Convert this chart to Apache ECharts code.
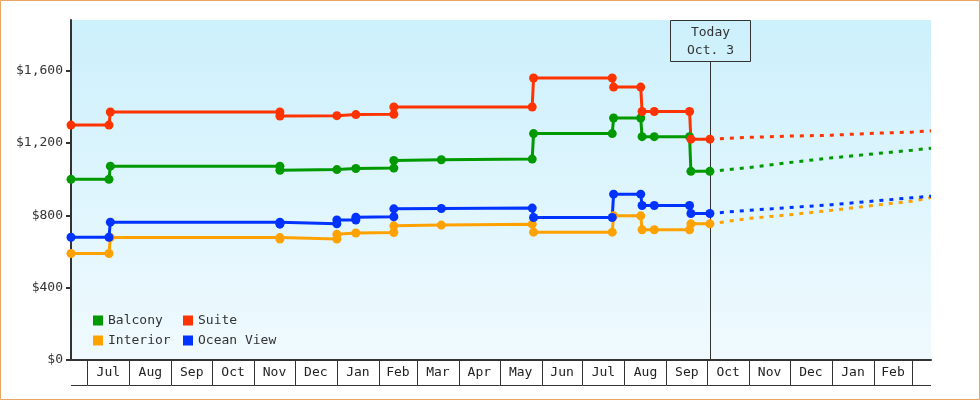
<!DOCTYPE html>
<html>
<head>
<meta charset="utf-8">
<script src="https://cdn.jsdelivr.net/npm/echarts@6/dist/echarts.min.js"></script>
<style>
html,body{margin:0;padding:0;background:#fff;}
#chart{width:980px;height:400px;}
</style>
</head>
<body>
<div id="chart"></div>
<script>
// ---- data ----
const balcony = [['2013-06-19',999],['2013-07-17',999],['2013-07-18',1072],['2013-11-20',1072],['2013-11-20',1049],['2014-01-01',1053],['2014-01-15',1059],['2014-02-12',1061],['2014-02-12',1103],['2014-03-19',1107],['2014-05-25',1111],['2014-05-26',1252],['2014-07-23',1252],['2014-07-24',1338],['2014-08-13',1338],['2014-08-14',1235],['2014-08-23',1235],['2014-09-18',1235],['2014-09-19',1043],['2014-10-03',1043]];
const suite = [['2013-06-19',1299],['2013-07-17',1299],['2013-07-18',1371],['2013-11-20',1371],['2013-11-20',1349],['2014-01-01',1351],['2014-01-15',1357],['2014-02-12',1359],['2014-02-12',1399],['2014-05-25',1399],['2014-05-26',1559],['2014-07-23',1559],['2014-07-24',1509],['2014-08-13',1509],['2014-08-14',1374],['2014-08-23',1374],['2014-09-18',1374],['2014-09-19',1221],['2014-10-03',1221]];
const interior = [['2013-06-19',589],['2013-07-17',589],['2013-07-18',677],['2013-11-20',677],['2013-11-20',669],['2014-01-01',669],['2014-01-01',695],['2014-01-15',702],['2014-02-12',705],['2014-02-12',742],['2014-03-19',746],['2014-05-25',751],['2014-05-26',707],['2014-07-23',707],['2014-07-24',797],['2014-08-13',797],['2014-08-14',720],['2014-08-23',720],['2014-09-18',720],['2014-09-19',753],['2014-10-03',753]];
const oceanView = [['2013-06-19',679],['2013-07-17',679],['2013-07-18',762],['2013-11-20',762],['2013-11-20',751],['2014-01-01',753],['2014-01-01',774],['2014-01-15',774],['2014-01-15',790],['2014-02-12',792],['2014-02-12',836],['2014-03-19',838],['2014-05-25',840],['2014-05-26',788],['2014-07-23',788],['2014-07-24',917],['2014-08-13',917],['2014-08-14',854],['2014-08-23',854],['2014-09-18',854],['2014-09-19',810],['2014-10-03',810]];

const projDates = ['2014-10-03','2014-11-01','2014-12-01','2015-01-01','2015-02-01','2015-03-01','2015-03-15'];
const balconyProj  = [1043,1064,1092,1118,1140,1160,1171];
const suiteProj    = [1221,1231,1238,1243,1254,1260,1267];
const interiorProj = [753,783,803,828,855,878,898];
const oceanProj    = [810,828,843,859,879,897,906];

const monthBounds = ['2013-06-19','2013-07-01','2013-08-01','2013-09-01','2013-10-01','2013-11-01','2013-12-01','2014-01-01','2014-02-01','2014-03-01','2014-04-01','2014-05-01','2014-06-01','2014-07-01','2014-08-01','2014-09-01','2014-10-01','2014-11-01','2014-12-01','2015-01-01','2015-02-01','2015-03-01','2015-03-15'];
const monthLabels = ['','Jul','Aug','Sep','Oct','Nov','Dec','Jan','Feb','Mar','Apr','May','Jun','Jul','Aug','Sep','Oct','Nov','Dec','Jan','Feb',''];

const yTicks = [0,400,800,1200,1600];
const yMax = 1880;
const todayDate = '2014-10-03';
const todayLabel = 'Today\nOct. 3';

const colors = {Balcony:'#009900', Suite:'#ff3300', Interior:'#ffa200', 'Ocean View':'#0033ff'};
const FONT = 'DejaVu Sans Mono';

// ---- build ----
const chart = echarts.init(document.getElementById('chart'), null, {renderer:'canvas'});

function mainSeries(name, data) {
  return {
    name: name, type: 'line', data: data, z: 3,
    symbol: 'circle', symbolSize: 9,
    itemStyle: {color: colors[name]},
    lineStyle: {color: colors[name], width: 3},
    emphasis: {disabled: true}
  };
}
function projSeries(name, vals) {
  return {
    name: name, type: 'line', z: 3,
    data: projDates.map((d, i) => [d, vals[i]]),
    symbol: 'none',
    itemStyle: {color: colors[name]},
    lineStyle: {color: colors[name], width: 3, type: [4, 6]},
    emphasis: {disabled: true}
  };
}

const cellData = monthLabels.map((l, i) => [monthBounds[i], monthBounds[i + 1], 0]);

const option = {
  animation: false,
  textStyle: {fontFamily: FONT},
  grid: {
    left: 71, right: 49, top: 20, bottom: 40, show: true, borderWidth: 0,
    backgroundColor: new echarts.graphic.LinearGradient(0, 0, 0, 1, [
      {offset: 0, color: '#ccf0fc'}, {offset: 1, color: '#f0fafe'}
    ])
  },
  legend: [
    {
      orient: 'vertical', left: 93, top: 314, padding: 0, itemGap: 7,
      itemWidth: 10, itemHeight: 10, icon: 'rect',
      data: ['Balcony', 'Interior'],
      textStyle: {fontFamily: FONT, fontSize: 13, color: '#333'}
    },
    {
      orient: 'vertical', left: 183, top: 314, padding: 0, itemGap: 7,
      itemWidth: 10, itemHeight: 10, icon: 'rect',
      data: ['Suite', 'Ocean View'],
      textStyle: {fontFamily: FONT, fontSize: 13, color: '#333'}
    }
  ],
  xAxis: {
    type: 'time', min: monthBounds[0], max: monthBounds[monthBounds.length - 1],
    axisLine: {show: true, lineStyle: {color: '#333', width: 2}},
    axisTick: {show: false}, axisLabel: {show: false}, splitLine: {show: false}
  },
  yAxis: {
    type: 'value', min: 0, max: yMax,
    axisLine: {show: true, lineStyle: {color: '#333', width: 2}},
    axisTick: {show: true, length: 5, customValues: yTicks, lineStyle: {color: '#333', width: 2}},
    axisLabel: {
      customValues: yTicks, margin: 8, color: '#333', fontFamily: FONT, fontSize: 13,
      formatter: v => '$' + Number(v).toLocaleString('en-US')
    },
    splitLine: {show: false}
  },
  series: [
    mainSeries('Balcony', balcony),
    mainSeries('Interior', interior),
    mainSeries('Suite', suite),
    mainSeries('Ocean View', oceanView),
    projSeries('Balcony', balconyProj),
    projSeries('Interior', interiorProj),
    projSeries('Suite', suiteProj),
    projSeries('Ocean View', oceanProj),
    {
      type: 'custom', silent: true, z: 1,
      data: cellData,
      encode: {x: [0, 1], y: 2},
      renderItem: function (params, api) {
        const s = api.coord([api.value(0), 0]);
        const e = api.coord([api.value(1), 0]);
        const y0 = s[1];
        const h = 25;
        const children = [
          {type: 'line', shape: {x1: s[0], y1: y0 + h + 0.5, x2: e[0], y2: y0 + h + 0.5}, style: {stroke: '#333', lineWidth: 1}}
        ];
        if (params.dataIndex > 0) {
          children.push({type: 'line', shape: {x1: Math.round(s[0]) + 0.5, y1: y0, x2: Math.round(s[0]) + 0.5, y2: y0 + h}, style: {stroke: '#333', lineWidth: 1}});
        }
        const lab = monthLabels[params.dataIndex];
        if (lab) {
          children.push({type: 'text', style: {text: lab, x: (s[0] + e[0]) / 2, y: y0 + h / 2 + 0.5, align: 'center', verticalAlign: 'middle', fill: '#222', font: '13px "' + FONT + '"'}});
        }
        return {type: 'group', children: children};
      }
    }
  ]
};
chart.setOption(option);

// Today marker, positioned through the chart's own scales
const pTop = chart.convertToPixel({xAxisIndex: 0, yAxisIndex: 0}, [todayDate, yMax]);
const pBot = chart.convertToPixel({xAxisIndex: 0, yAxisIndex: 0}, [todayDate, 0]);
const tx = Math.round(pTop[0]) + 0.5;
const boxW = 80, boxH = 41;
chart.setOption({
  graphic: [
    {type: 'line', z: 1, silent: true, shape: {x1: tx, y1: pTop[1] + boxH, x2: tx, y2: pBot[1]}, style: {stroke: '#333', lineWidth: 1}},
    {type: 'rect', z: 1, silent: true, shape: {x: tx - boxW / 2, y: Math.round(pTop[1]) + 0.5, width: boxW, height: boxH}, style: {fill: 'rgba(0,0,0,0)', stroke: '#333', lineWidth: 1}},
    {type: 'text', z: 1, silent: true, x: tx, y: pTop[1] + boxH / 2 + 1, style: {text: todayLabel, align: 'center', verticalAlign: 'middle', lineHeight: 18, fill: '#333', font: '13px "' + FONT + '"'}},
    {type: 'rect', z: 10, silent: true, shape: {x: 0.5, y: 0.5, width: 979, height: 399}, style: {fill: 'none', stroke: '#e8a662', lineWidth: 1}}
  ]
});
</script>
</body>
</html>
